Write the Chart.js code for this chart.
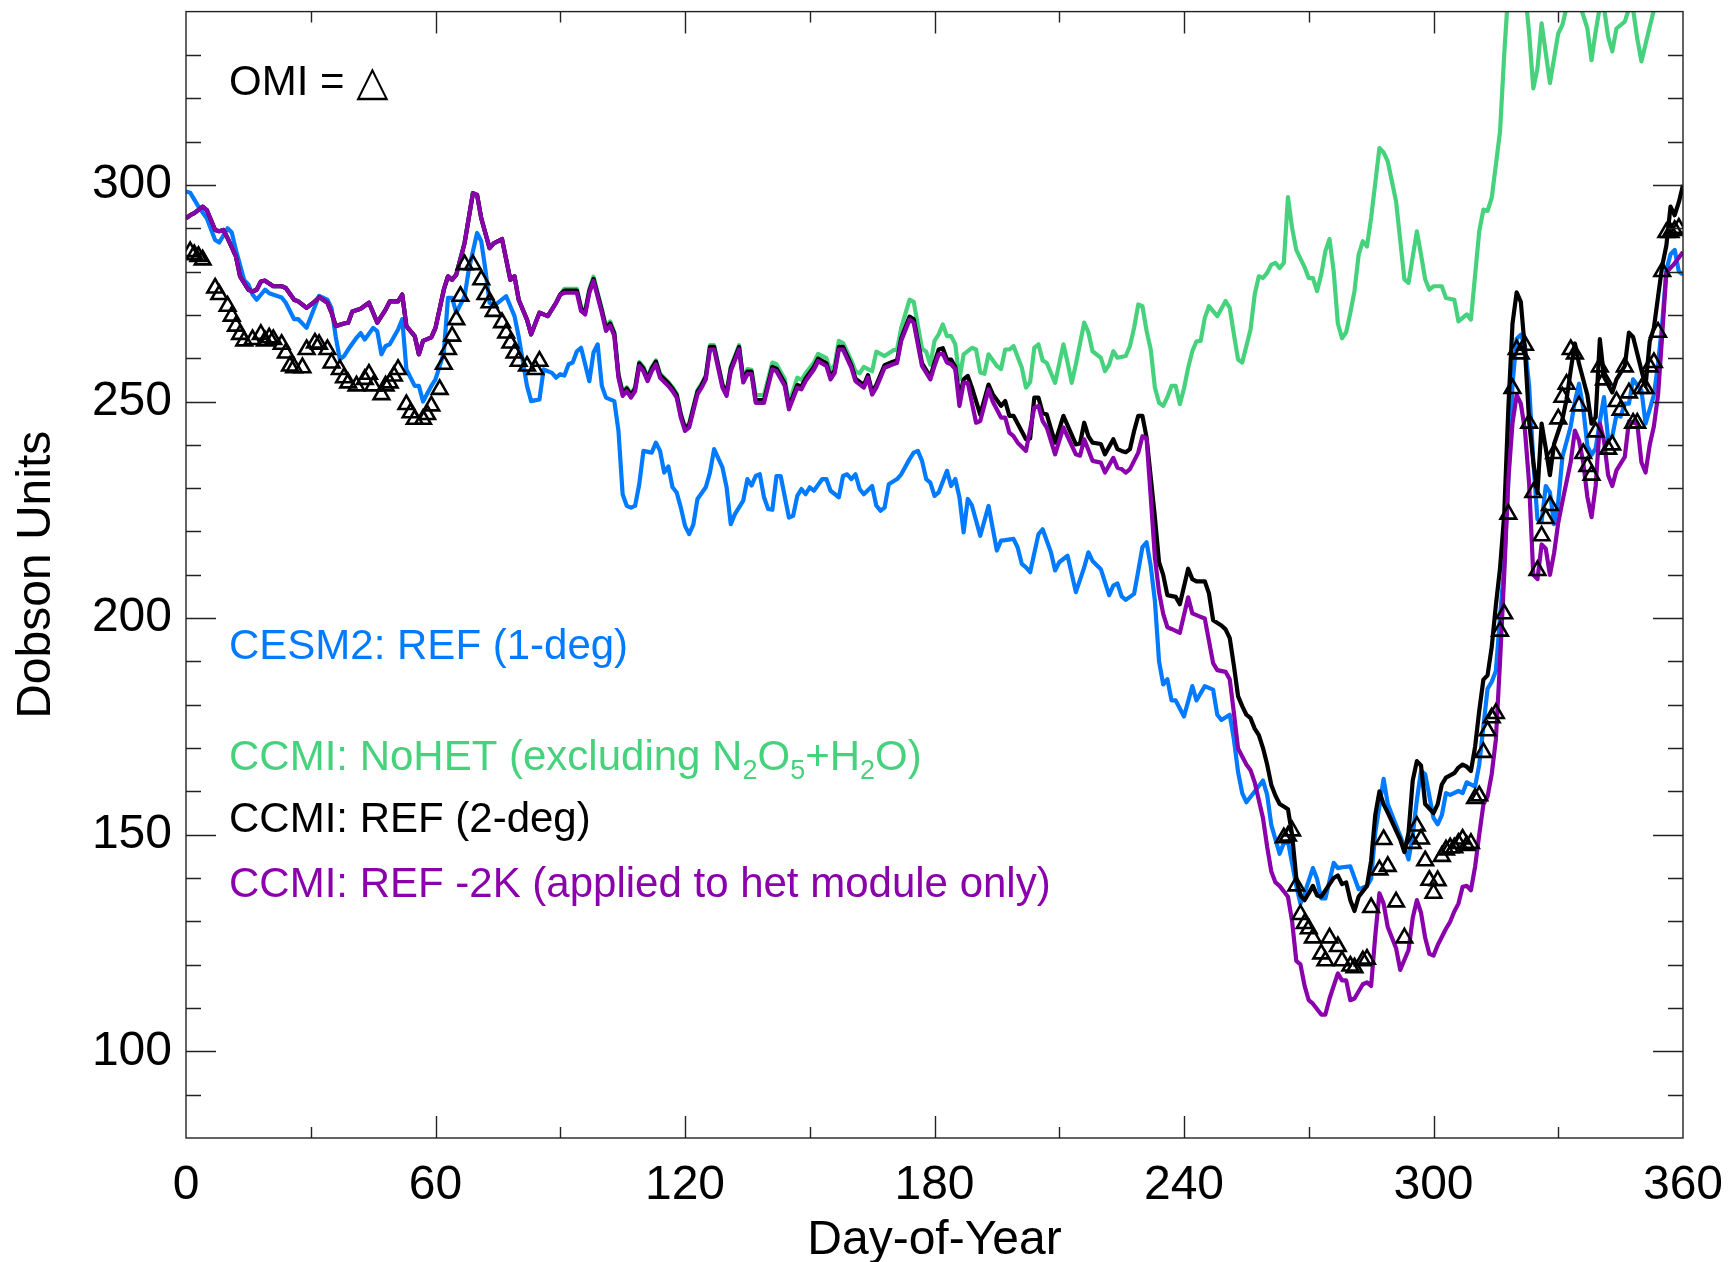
<!DOCTYPE html>
<html>
<head>
<meta charset="utf-8">
<title>Dobson Units by Day-of-Year</title>
<script src="https://cdn.jsdelivr.net/npm/chart.js@4.4.1/dist/chart.umd.min.js"></script>
<style>
  html, body { margin: 0; padding: 0; background: #fff; }
  #wrap { width: 1733px; height: 1262px; }
</style>
</head>
<body>
<div id="wrap"><canvas id="ozoneChart" width="1733" height="1262"></canvas></div>
<script>
// axis ticks
const xTicks = [0, 60, 120, 180, 240, 300, 360];
const yTicks = [100, 150, 200, 250, 300];

// [day, DU] pairs per run
const cesmRef = [[0,298.5],[1,298.2],[3,295],[5,292.3],[7,287.3],[8,286.7],[10,290],[11,289],[12,285],[14,278],[15,277],[16,274.7],[17,273.5],[19,275.8],[20,275],[23,274],[24,272.8],[26,269],[27,269],[29,267],[32,274.4],[34,273.5],[35,271.6],[36,265],[37,259.7],[38,260.5],[39,262],[41,264.7],[42,265.8],[43,264.3],[45,267],[46,266.2],[47,260.9],[48,262.8],[49,263.2],[51,266.6],[52,269],[53,257.4],[55,253.6],[56,253.6],[57,250],[59,253.6],[60,255.1],[62,261.2],[63,273.9],[64,273.9],[65,270.5],[67,274.3],[68,280.4],[70,288.9],[71,287],[72,280.4],[73,272.8],[74,272],[77,274.3],[79,269.7],[80,265],[82,253.6],[83,250.1],[85,250.5],[86,257.4],[88,256.6],[89,255.5],[90,256.3],[91,256],[92,258.6],[93,259],[94,261.6],[95,262.4],[97,254.7],[98,261.3],[99,263.2],[100,253.6],[101,250.9],[103,250.1],[104,243.2],[105,228.6],[106,225.9],[107,225.5],[108,225.9],[109,230.9],[110,238.6],[112,238.2],[113,240.5],[114,238.6],[115,233.6],[116,235],[117,230.2],[118,229],[119,225.5],[120,221.3],[121,219.4],[122,221.6],[123,227.5],[125,230.2],[126,233.6],[127,239],[129,234.8],[130,230.2],[131,221.7],[132,224],[134,227.1],[135,232.1],[136,230.6],[137,232.8],[138,233.2],[139,227.9],[140,225.2],[141,225],[142,232.8],[143,232.8],[145,223.2],[146,223.6],[147,228.2],[148,229.8],[149,228.6],[150,230.2],[151,229.4],[153,232.1],[154,232.1],[155,229.4],[157,227.9],[158,232.8],[159,233.2],[160,232.1],[161,233.2],[162,229.8],[163,228.6],[165,230.5],[166,226],[167,224.8],[168,225.5],[169,230.9],[171,232.1],[172,233.2],[174,236.7],[175,238.2],[176,238.6],[177,236.3],[178,232.1],[179,231.3],[180,228.2],[181,229],[183,234],[184,230.5],[185,232.1],[186,227.9],[187,219.8],[188,227.5],[189,226],[191,219],[193,225.9],[195,215.6],[196,217.9],[197,218],[199,218.3],[200,216.3],[201,212.5],[202,211.7],[203,210.6],[205,219.4],[206,220.5],[208,215.2],[209,211],[210,212.9],[212,214.4],[214,206],[216,211.7],[217,215.2],[218,213.2],[220,211.3],[222,205.3],[223,207.5],[224,208],[225,205],[226,204.2],[228,205.6],[229,210.9],[230,216.4],[231,217.5],[232,212],[233,204],[234,190],[235,184.7],[236,185.9],[237,181],[238,181],[240,177.3],[242,184.3],[243,181],[245,184.3],[247,183.5],[248,177.7],[249,176.5],[251,177.7],[252,172],[253,164.5],[254,159.6],[255,157.5],[257,160],[259,162.5],[260,159.2],[261,152.2],[263,145.6],[264,148.1],[265,148.5],[267,138.2],[268,134.1],[269,136.5],[271,142.3],[272,139.8],[273,135.3],[274,135.3],[276,143.5],[277,142.3],[278,142.5],[280,142.7],[282,137.4],[284,138.2],[285,139.8],[286,150.5],[288,162.9],[289,157.1],[291,152.2],[293,147.2],[294,144.3],[295,149.8],[296,158],[297,164.7],[298,164],[300,153.9],[301,152.4],[302,154.5],[303,159.6],[304,159.2],[306,160.1],[307,159.6],[308,162.1],[310,161.1],[311,166.2],[313,183.7],[314,185.3],[315,187.8],[316,200.2],[317,212],[318,232],[319,254],[320,264.5],[321,265.4],[322,262.8],[323,253.6],[324,236.1],[325,222.8],[326,222.3],[327,230.5],[328,229],[329,221.7],[330,226.9],[331,237.2],[333,244.3],[334,250],[335,254.1],[336,248.5],[337,239.7],[338,237.7],[339,239.2],[340,245.4],[341,251],[342,241.3],[343,242],[344,246.9],[345,246.5],[346,249.5],[347,249.5],[348,255.1],[350,252.6],[351,244.9],[353,251.5],[354,258.7],[355,268],[356,280.3],[357,284],[358,285],[359,280],[360,279.3]];

const ccmiNoHet = [[0,292.3],[1,293],[2,293.5],[4,295],[5,294.2],[7,289.6],[8,289.3],[9,289.6],[10,287.7],[12,283.5],[13,278.9],[15,275.8],[16,275.4],[17,275.8],[18,277.7],[19,277.9],[21,276.6],[23,276.6],[24,276.2],[26,273.5],[27,273.1],[29,271.6],[31,273.1],[32,274.1],[34,272.8],[35,270.5],[36,267.4],[38,268],[39,268.2],[40,270.8],[42,271.4],[44,272.8],[46,268.2],[48,271.2],[49,273.1],[51,273.1],[52,274.7],[53,267.4],[55,265.1],[56,260.9],[57,264],[59,264.8],[60,267],[62,275.8],[63,278.9],[64,278.1],[65,279.3],[67,286.6],[69,298.1],[70,297.7],[71,292.3],[73,285.4],[74,286.5],[76,287.5],[78,278.1],[79,278.9],[80,273.5],[82,268.9],[83,265.5],[85,270.5],[86,270.1],[87,269.7],[89,272.8],[90,274.7],[91,276],[94,276],[95,271.8],[96,271],[97,276],[98,278.8],[100,271.4],[101,267.2],[102,268.5],[103,266],[104,256.4],[105,252.2],[106,253.3],[107,251.8],[108,253.3],[109,259.1],[110,258],[111,255.6],[112,258],[113,259.5],[114,256.4],[116,254.5],[117,253.3],[118,251.8],[119,247.2],[120,244.1],[121,245],[123,252.6],[124,254.1],[125,256],[126,263],[127,263],[129,254.1],[130,252.2],[131,258],[133,263],[134,255.3],[135,257.5],[136,257.3],[137,251.5],[139,251.5],[141,259],[142,258.6],[144,255.2],[145,249.5],[147,255.5],[148,255],[149,256.5],[151,259],[152,261],[154,260],[155,257],[156,258.5],[157,264],[158,263.5],[160,259.5],[161,257],[162,256.5],[163,258],[164,257.5],[165,257],[166,261.5],[168,260.5],[170,261.8],[171,262],[172,267],[174,273.5],[175,273],[177,262.2],[178,261.5],[179,258.5],[180,264],[181,265.5],[182,267.8],[183,265.1],[184,265.1],[185,263.2],[186,255.1],[187,260.9],[189,262.4],[190,262],[191,256.7],[192,256.4],[193,260.9],[195,258.2],[196,257.5],[197,262],[198,262],[199,262.8],[201,257.8],[202,253.2],[203,254.5],[204,262.4],[205,263.2],[206,259.5],[207,258.9],[209,254.3],[211,263.2],[212,259],[213,254.3],[214,258.6],[216,268.2],[217,266],[218,261.6],[220,260.1],[221,257],[222,258.5],[223,261.6],[224,260.1],[226,260.5],[227,262.8],[228,267],[229,272.4],[230,272],[231,266.3],[232,262],[233,253.2],[234,249.7],[235,249],[236,251],[237,253.6],[238,253.6],[239,249.4],[240,253],[241,257.8],[242,261.6],[243,263.9],[244,264],[245,269.3],[246,272],[248,269.7],[250,273.2],[251,271.6],[252,265.5],[253,259.7],[254,259],[256,266.6],[257,274.7],[258,278.9],[259,278.5],[260,279.7],[261,281.6],[262,282],[263,280.8],[264,282],[265,297.2],[266,290],[267,285],[268,283],[269,281],[270,278.5],[271,278.5],[272,275.5],[273,279.3],[274,284.7],[275,287.5],[276,280],[277,268],[278,264.6],[279,266],[280,270.5],[281,275.5],[282,283.9],[283,287],[284,285.8],[285,292.4],[287,308.5],[288,307.5],[289,305.4],[291,296.2],[293,278.2],[294,277.4],[296,289.3],[297,283.9],[298,278.2],[299,275.8],[300,276.6],[302,276.6],[303,273.9],[305,273.5],[306,268.5],[307,269.3],[308,270.1],[309,268.9],[311,289.3],[312,294.3],[313,294],[314,297],[316,312.3],[317,330],[318,345],[320,352],[322,345],[323,335],[324,322.3],[325,326.9],[326,337.3],[328,323.5],[330,335],[331,336.9],[332,341],[334,345],[336,339.2],[337,336.1],[338,328.8],[339,335.4],[340,341.1],[341,341],[342,334.2],[343,330.8],[344,336.1],[346,337.7],[347,340.7],[348,340.5],[349,333.8],[350,328.5],[352,336.5],[353,340.4],[355,348],[358,355],[360,360]];

const ccmiRef = [[0,292.3],[1,293],[2,293.5],[4,295],[5,294.2],[7,289.6],[8,289.3],[9,289.6],[10,287.7],[12,283.5],[13,278.9],[15,275.8],[16,275.4],[17,275.8],[18,277.7],[19,277.9],[21,276.6],[23,276.6],[24,276.2],[26,273.5],[27,273.1],[29,271.6],[31,273.1],[32,274.1],[34,272.8],[35,270.5],[36,267.4],[38,268],[39,268.2],[40,270.8],[42,271.4],[44,272.8],[46,268.2],[48,271.2],[49,273.1],[51,273.1],[52,274.7],[53,267.4],[55,265.1],[56,260.9],[57,264],[59,264.8],[60,267],[62,275.8],[63,278.9],[64,278.1],[65,279.3],[67,286.6],[69,298.1],[70,297.7],[71,292.3],[73,285.4],[74,286.5],[76,287.5],[78,278.1],[79,278.9],[80,273.5],[82,268.9],[83,265.5],[85,270.5],[86,270.1],[87,269.7],[89,272.8],[90,274.7],[91,275.6],[94,275.6],[95,271.5],[96,270.7],[97,275.6],[98,278.3],[100,271],[101,266.9],[102,268],[103,265.7],[104,256],[105,251.9],[106,253],[107,251.5],[108,253],[109,258.8],[110,257.6],[111,255.3],[112,257.6],[113,259.2],[114,256.1],[116,254.2],[117,253],[118,251.5],[119,246.9],[120,243.8],[121,244.6],[123,252.3],[124,253.8],[125,255.7],[126,262.6],[127,262.6],[129,253.8],[130,251.9],[131,257.6],[133,262.6],[134,255],[135,256.9],[136,256.9],[137,250.3],[139,250.3],[141,258],[142,257.6],[144,254.2],[145,248.8],[147,253.8],[148,253.4],[149,255.3],[151,258],[152,259.9],[154,258.8],[155,255.7],[156,257.2],[157,262.6],[158,262.6],[160,258.4],[161,255.3],[163,253.8],[164,256.1],[165,252.2],[166,253.8],[168,258.4],[170,259.2],[171,259.5],[172,264.6],[174,269.6],[175,269],[177,258.8],[179,255.7],[180,259],[181,262],[182,262.3],[183,259.7],[184,259.7],[185,258],[186,250.9],[187,255.1],[188,255.9],[189,253.2],[191,247],[193,253.9],[194,251.7],[196,249],[197,250.1],[198,246.7],[199,246.7],[202,241.3],[203,241.5],[204,250.9],[205,250.9],[206,247.4],[207,247],[209,240.5],[211,246.7],[214,240.1],[215,240.3],[216,245.1],[217,242],[218,240.5],[220,240.2],[221,237.8],[223,241.3],[224,239],[225,238.6],[226,238.3],[227,239],[228,243.2],[229,246.7],[230,246.7],[231,241.7],[232,232.5],[233,223.3],[234,212.9],[235,210],[236,205.3],[238,204.9],[239,203.2],[241,211.4],[242,209],[243,208.5],[245,208.5],[246,205.7],[247,199.5],[249,198.3],[250,197.4],[251,195.4],[252,189],[253,182],[254,179.7],[255,177.7],[256,176.9],[257,174.5],[258,173],[259,170],[260,166.2],[261,161.5],[262,159],[263,157.1],[264,156.5],[265,155.9],[266,150],[267,140],[268,136],[269,134.9],[270,136.5],[271,138.2],[272,136],[273,135.7],[275,138.6],[276,140],[277,140.6],[278,138.6],[279,139],[280,134.9],[281,132.4],[282,135.7],[284,138.2],[285,144],[286,154.6],[287,160],[288,157],[289,155.1],[290,153],[292,148.9],[293,146],[294,150.5],[295,162.5],[296,167],[297,166],[298,157.1],[300,155],[301,157],[302,161.6],[303,163.2],[305,164.2],[306,165.5],[307,166.2],[308,165.7],[309,164.7],[310,170.3],[311,178.6],[312,185.8],[313,186.8],[314,193.3],[315,203],[316,211.5],[317,223.8],[318,248.5],[319,268],[320,275.2],[321,273],[322,261.8],[323,245.4],[324,236.1],[325,228.9],[326,244.9],[327,239.2],[328,233],[329,240.2],[331,245.9],[332,250.5],[333,257.2],[334,263.4],[335,258.7],[337,251.5],[338,244.9],[339,246.4],[340,264.4],[341,255.7],[343,252.1],[344,255.1],[346,258.2],[347,265.9],[348,264.9],[350,257.2],[351,253.6],[352,263.9],[353,267],[354,274.2],[355,281.3],[356,286],[357,295],[358,293],[359,296],[360,300]];

const ccmiRefMinus2K = [[0,292.3],[1,293],[2,293.5],[4,295],[5,294.2],[7,289.6],[8,289.3],[9,289.6],[10,287.7],[12,283.5],[13,278.9],[15,275.8],[16,275.4],[17,275.8],[18,277.7],[19,277.9],[21,276.6],[23,276.6],[24,276.2],[26,273.5],[27,273.1],[29,271.6],[31,273.1],[32,274.1],[34,272.8],[35,270.5],[36,267.4],[38,268],[39,268.2],[40,270.8],[42,271.4],[44,272.8],[46,268.2],[48,271.2],[49,273.1],[51,273.1],[52,274.7],[53,267.4],[55,265.1],[56,260.9],[57,264],[59,264.8],[60,267],[62,275.8],[63,278.9],[64,278.1],[65,279.3],[67,286.6],[69,298.1],[70,297.7],[71,292.3],[73,285.4],[74,286.5],[76,287.5],[78,278.1],[79,278.9],[80,273.5],[82,268.9],[83,265.5],[85,270.5],[86,270.1],[87,269.7],[89,272.8],[90,274.7],[91,275.1],[94,275.1],[95,270.9],[96,270.1],[97,275.1],[98,277.8],[100,270.5],[101,266.3],[102,267.5],[103,265.1],[104,255.5],[105,251.3],[106,252.4],[107,250.9],[108,252.4],[109,258.2],[110,257],[111,254.7],[112,257],[113,258.6],[114,255.5],[116,253.6],[117,252.4],[118,250.9],[119,246.3],[120,243.2],[121,244],[123,251.7],[124,253.2],[125,255.1],[126,262],[127,262],[129,253.2],[130,251.3],[131,257],[133,262],[134,254.4],[135,256.3],[136,256.3],[137,249.7],[139,249.7],[141,257.4],[142,257],[144,253.6],[145,248.2],[147,253.2],[148,252.8],[149,254.7],[151,257.4],[152,259.3],[154,258.2],[155,255.1],[156,256.6],[157,262],[158,262],[160,257.8],[161,254.7],[163,253.2],[164,255.5],[165,251.6],[166,253.2],[168,257.8],[170,258.6],[171,258.9],[172,264],[174,268.9],[175,268.2],[177,258.2],[179,255.1],[180,258.2],[181,260.9],[182,261],[183,259],[184,258.6],[185,257.5],[186,249],[187,254.3],[188,254.3],[190,245.1],[191,245.5],[193,252.8],[194,250],[196,246.3],[197,246.3],[198,242.8],[199,242],[200,240.5],[202,238.6],[204,248.6],[205,249],[206,245.5],[207,244],[209,237.8],[211,244],[214,237.8],[215,237.5],[216,241.3],[218,236.3],[220,235.9],[221,233.6],[223,237],[224,234.7],[225,234.4],[226,233.6],[227,234.4],[229,238.2],[230,242],[231,241.5],[232,228],[233,214],[234,206],[235,201],[236,197.9],[237,197.5],[239,196.6],[241,204.8],[242,201.1],[244,200.3],[245,199.9],[247,189.6],[248,188],[250,187.6],[251,185.9],[252,178.1],[253,169.9],[255,166.2],[256,164.9],[257,162.1],[259,153.8],[260,147.2],[261,141.5],[262,139],[263,138.2],[265,135.7],[266,130],[267,120.9],[268,120.1],[269,115.1],[270,111.8],[271,111],[273,108.5],[274,108.5],[275,112.2],[277,118],[278,116.4],[279,116.4],[280,111.8],[281,112.2],[283,115.5],[284,115.9],[285,115.1],[286,126.7],[287,136.5],[288,134.1],[289,128.7],[291,123.8],[292,118.8],[294,123.4],[295,130.8],[296,134.9],[297,132],[298,126.2],[299,122.5],[300,122.1],[301,124.5],[303,128.3],[304,129.9],[305,132.3],[306,134.1],[307,138],[308,138.2],[309,137.2],[310,142.6],[311,150],[312,157],[313,158.8],[314,164],[315,172],[316,190],[317,210],[318,232],[319,245],[320,251.5],[321,249.5],[322,243.3],[323,231],[324,210],[325,209],[326,217],[327,216],[328,210],[329,215],[330,222],[331,226.9],[333,236.1],[334,243.3],[335,241],[336,236],[337,228],[338,223.3],[339,230.5],[340,244.9],[341,241],[342,233],[343,230.5],[344,234.1],[346,237.2],[347,245.4],[349,244.9],[350,236],[351,233.6],[352,240],[353,244.3],[354,251.5],[355,265.4],[356,279.8],[358,281.9],[360,284.5]];

const omi = [[1,284.6],[2,283.9],[3,283.5],[4,282.7],[7,276.2],[8,274.7],[10,272],[11,269.7],[12,267.4],[13,265.5],[14,264],[16,264.3],[18,265.5],[19,264],[20,264.7],[21,264.3],[23,263.2],[24,261.2],[25,258.2],[26,257.8],[28,257.8],[29,262],[31,263.5],[32,263.2],[34,262],[35,258.9],[37,257.4],[38,255.5],[39,254.3],[41,253.6],[43,255.1],[44,256.3],[45,253.6],[47,251.6],[48,253.6],[49,254.3],[50,255.9],[51,257.4],[53,249.3],[54,247.4],[55,245.9],[57,245.9],[58,247],[59,249],[61,252.8],[62,258.6],[63,262],[64,265.1],[65,268.9],[66,274.3],[67,281.6],[69,281.6],[71,278.1],[72,274.7],[73,272.8],[74,270.8],[76,268.2],[77,265.8],[78,263.5],[79,261.2],[80,259.3],[82,258.2],[84,257.4],[85,259.3],[264,149.3],[265,149.7],[266,150.9],[267,138.2],[268,131.6],[269,129.5],[270,128.3],[271,126.2],[273,122.5],[274,120.9],[275,126.2],[277,124.2],[278,120.9],[280,119.7],[281,119.3],[283,120.9],[284,121.3],[285,133.2],[287,141.9],[288,148.9],[289,142.7],[291,134.5],[293,126.2],[295,148],[296,152],[297,149],[298,144],[299,139.5],[300,136.5],[301,139.4],[302,145],[303,146.5],[304,147],[305,147],[306,148],[307,149],[308,147.5],[309,148],[310,158.4],[311,159],[312,169],[313,174],[314,177],[315,178],[316,197],[317,201],[318,224],[319,253],[320,262],[321,261],[322,263],[323,245],[324,229],[325,211],[326,219],[327,223],[328,226],[329,238],[330,246],[331,251],[332,254],[333,262],[334,261],[335,249],[336,238],[337,235],[338,233],[339,243],[340,258],[341,255],[342,239],[343,240],[344,250],[345,248],[346,258],[347,252],[348,245],[349,245],[350,253],[351,253],[352,258],[353,259],[354,266],[355,280],[356,289],[357,289],[358,289.5],[359,290]];

const FONT = "'Liberation Sans', Arial, Helvetica, sans-serif";
const BLUE = '#007AFF';
const GREEN = '#46D27C';
const PURPLE = '#8A00AA';

// labels written inside the plot, left side
const notes = [
  { y: 95, color: '#000', parts: [['OMI = '], ['\u25B3', false, "'DejaVu Sans', sans-serif"]] },
  { y: 659, color: BLUE, parts: [['CESM2: REF (1-deg)']] },
  { y: 770, color: GREEN, parts: [['CCMI: NoHET (excluding N'], ['2', true], ['O'], ['5', true], ['+H'], ['2', true], ['O)']] },
  { y: 832, color: '#000', parts: [['CCMI: REF (2-deg)']] },
  { y: 897, color: PURPLE, parts: [['CCMI: REF -2K (applied to het module only)']] }
];

// box around the plot with inward tick marks on all four sides
const boxTicks = {
  id: 'boxTicks',
  afterDatasetsDraw(chart) {
    const { ctx, chartArea: a, scales: { x, y } } = chart;
    ctx.save();
    ctx.strokeStyle = '#222';
    ctx.lineWidth = 1.4;
    ctx.beginPath();
    for (let v = 90; v <= 330; v += 10) {
      const py = Math.round(y.getPixelForValue(v)) + 0.5;
      const len = yTicks.includes(v) ? 30 : 15;
      ctx.moveTo(a.left, py); ctx.lineTo(a.left + len, py);
      ctx.moveTo(a.right, py); ctx.lineTo(a.right - len, py);
    }
    for (let d = 30; d < 360; d += 30) {
      const px = Math.round(x.getPixelForValue(d)) + 0.5;
      const len = xTicks.includes(d) ? 22 : 11;
      ctx.moveTo(px, a.bottom); ctx.lineTo(px, a.bottom - len);
      ctx.moveTo(px, a.top); ctx.lineTo(px, a.top + len);
    }
    ctx.stroke();
    ctx.strokeRect(a.left, a.top, a.right - a.left, a.bottom - a.top);
    ctx.restore();
  }
};

const noteText = {
  id: 'noteText',
  afterDraw(chart) {
    const { ctx, chartArea: a } = chart;
    ctx.save();
    ctx.textAlign = 'left';
    ctx.textBaseline = 'alphabetic';
    notes.forEach(n => {
      let px = a.left + 43;
      n.parts.forEach(([txt, sub, fam]) => {
        ctx.font = (sub ? '27px ' : '42px ') + (fam || FONT);
        ctx.fillStyle = n.color;
        ctx.fillText(txt, px, n.y + (sub ? 9 : 0));
        px += ctx.measureText(txt).width;
      });
    });
    ctx.restore();
  }
};

const lineSet = (label, data, color, order) => ({
  label, data, order,
  borderColor: color,
  borderWidth: 4.2,
  borderJoinStyle: 'round',
  pointRadius: 0,
  fill: false
});

// keep the plot box where the layout padding puts it
const noLabelPadding = s => { s.paddingTop = 0; s.paddingBottom = 0; s.paddingLeft = 0; s.paddingRight = 0; };

new Chart(document.getElementById('ozoneChart'), {
  type: 'line',
  data: {
    datasets: [
      lineSet('CESM2: REF (1-deg)', cesmRef, BLUE, 4),
      lineSet('CCMI: NoHET', ccmiNoHet, GREEN, 3),
      lineSet('CCMI: REF (2-deg)', ccmiRef, '#000', 2),
      lineSet('CCMI: REF -2K', ccmiRefMinus2K, PURPLE, 1),
      {
        label: 'OMI',
        data: omi,
        order: 0,
        showLine: false,
        pointStyle: 'triangle',
        pointRadius: 9,
        pointBorderWidth: 2.6,
        pointBorderColor: '#000',
        pointBackgroundColor: 'rgba(0,0,0,0)'
      }
    ]
  },
  options: {
    responsive: false,
    animation: false,
    devicePixelRatio: 1,
    layout: { padding: { left: 0, right: 50, top: 9, bottom: 0 } },
    plugins: { legend: { display: false }, tooltip: { enabled: false } },
    scales: {
      x: {
        type: 'linear',
        min: 0, max: 360,
        afterBuildTicks: s => { s.ticks = xTicks.map(v => ({ value: v })); },
        afterFit: s => { s.height = 124; noLabelPadding(s); },
        grid: { display: false, drawTicks: false },
        border: { display: false },
        ticks: { color: '#000', padding: 19, maxRotation: 0, autoSkip: false, font: { family: FONT, size: 48 } },
        title: { display: true, text: 'Day-of-Year', color: '#000', font: { family: FONT, size: 48, lineHeight: 1 }, padding: { top: 0, bottom: -3 } }
      },
      y: {
        type: 'linear',
        min: 80, max: 340,
        afterBuildTicks: s => { s.ticks = yTicks.map(v => ({ value: v })); },
        afterFit: s => { s.width = 186; noLabelPadding(s); },
        grid: { display: false, drawTicks: false },
        border: { display: false },
        ticks: { color: '#000', padding: 14, font: { family: FONT, size: 48 } },
        title: { display: true, text: 'Dobson Units', color: '#000', font: { family: FONT, size: 48, lineHeight: 1 }, padding: { top: 13, bottom: 0 } }
      }
    }
  },
  plugins: [boxTicks, noteText]
});
</script>
</body>
</html>
